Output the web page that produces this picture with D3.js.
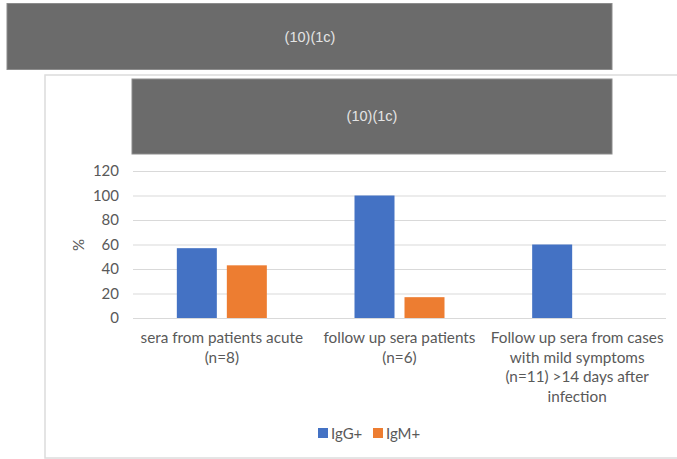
<!DOCTYPE html>
<html><head><meta charset="utf-8">
<script src="https://cdn.jsdelivr.net/npm/d3@7"></script>
<style>body{margin:0;background:#fff;}svg{display:block;}</style>
</head><body>
<script>
const categories = [
  ["sera from patients acute", "(n=8)"],
  ["follow up sera patients", "(n=6)"],
  ["Follow up sera from cases", "with mild symptoms", "(n=11) >14 days after", "infection"]
];
const seriesNames = ["IgG+", "IgM+"];
const igg = [57, 100, 60];
const igm = [43, 17, 0];
const yTicks = [0, 20, 40, 60, 80, 100, 120];
const colors = ["#4472c4", "#ed7d31"];
const bannerText = "(10)(1c)";

const W = 677, H = 459;
const svg = d3.select("body").append("svg").attr("width", W).attr("height", H);
const font = "Lato, 'Open Sans', sans-serif";

// top banner
svg.append("rect").attr("x", 7).attr("y", 3.5).attr("width", 605).attr("height", 66)
  .attr("fill", "#6b6b6b").attr("stroke", "#8c8c8c").attr("stroke-width", 1);
svg.append("text").attr("x", 310).attr("y", 42).attr("text-anchor", "middle")
  .attr("font-family", "Arial, 'Liberation Sans', sans-serif").attr("font-size", 14.5)
  .attr("fill", "#e4e4e4").text(bannerText);

// chart frame
svg.append("rect").attr("x", 45).attr("y", 75).attr("width", 640).attr("height", 383)
  .attr("fill", "#fff").attr("stroke", "#dcdcdc").attr("stroke-width", 1.5);

// inner banner
svg.append("rect").attr("x", 132).attr("y", 79).attr("width", 480).attr("height", 75)
  .attr("fill", "#6b6b6b").attr("stroke", "#8c8c8c").attr("stroke-width", 1);
svg.append("text").attr("x", 372).attr("y", 121).attr("text-anchor", "middle")
  .attr("font-family", "Arial, 'Liberation Sans', sans-serif").attr("font-size", 14.5)
  .attr("fill", "#e4e4e4").text(bannerText);

const x0 = d3.scaleBand().domain(d3.range(categories.length)).range([133, 666]).padding(0);
const groupW = 90;
const x1 = d3.scaleBand().domain(seriesNames)
  .range([(x0.bandwidth() - groupW) / 2, (x0.bandwidth() + groupW) / 2]).paddingInner(0.2);
const y = d3.scaleLinear().domain([0, 120]).range([318, 171]);

// gridlines
const yAxis = d3.axisLeft(y).tickValues(yTicks).tickSize(-(666 - 133)).tickPadding(14);
const gy = svg.append("g").attr("transform", "translate(133,0)").call(yAxis);
gy.select(".domain").remove();
gy.selectAll(".tick line").attr("stroke", "#d9d9d9").attr("stroke-width", 1.2);
gy.selectAll(".tick text").attr("font-family", font).attr("font-size", 15).attr("fill", "#595959");

// bars
const data = categories.map((c, i) => ({ i, vals: [igg[i], igm[i]] }));
const groups = svg.append("g").selectAll("g").data(data).join("g")
  .attr("transform", d => `translate(${x0(d.i)},0)`);
groups.selectAll("rect").data(d => d.vals.map((v, k) => ({ k, v })).filter(e => e.v > 0))
  .join("rect")
  .attr("x", e => x1(seriesNames[e.k]))
  .attr("width", x1.bandwidth())
  .attr("y", e => y(e.v))
  .attr("height", e => y(0) - y(e.v))
  .attr("fill", e => colors[e.k]);

// y label
svg.append("text").attr("transform", "translate(84,245) rotate(-90)").attr("text-anchor", "middle")
  .attr("font-family", font).attr("font-size", 15).attr("fill", "#595959").text("%");

// category labels
categories.forEach((lines, i) => {
  const cx = x0(i) + x0.bandwidth() / 2;
  const t = svg.append("text").attr("text-anchor", "middle").attr("font-family", font)
    .attr("font-size", 15.3).attr("fill", "#595959");
  lines.forEach((l, j) => t.append("tspan").attr("x", cx).attr("y", 343 + j * 19.7).text(l));
});

// legend
const leg = svg.append("g");
const legX = [318, 373];
seriesNames.forEach((s, k) => {
  leg.append("rect").attr("x", legX[k]).attr("y", 428).attr("width", 10).attr("height", 10).attr("fill", colors[k]);
  leg.append("text").attr("x", legX[k] + 13).attr("y", 438.5).attr("font-family", font)
    .attr("font-size", 15).attr("fill", "#595959").text(s);
});
</script>
</body></html>
